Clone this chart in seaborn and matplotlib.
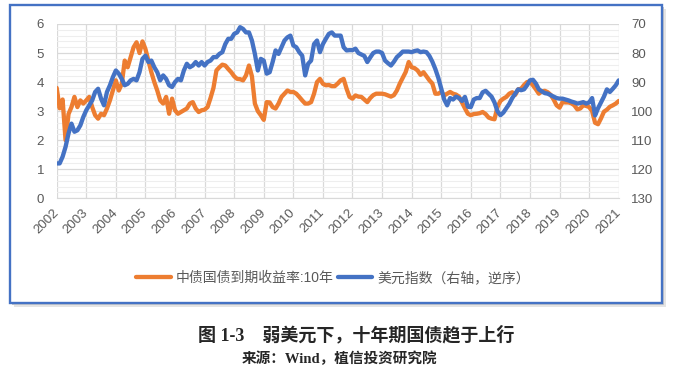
import numpy as np
import pandas as pd
import matplotlib
matplotlib.use('Agg')
import matplotlib.pyplot as plt
import seaborn as sns
from matplotlib.patches import Rectangle
from matplotlib.ticker import MultipleLocator

# sampling grid: every 0.1 year, 2002.0 .. 2021.0
year = np.round(np.arange(2002.0, 2021.05, 0.1), 1)

# 中债国债到期收益率:10年 (%)
cn10y = [
    3.80, 3.10, 3.40, 2.00, 2.90, 3.14, 3.49, 3.14, 3.37, 3.26,  # 2002
    3.37, 3.49, 3.14, 2.86, 2.74, 2.91, 2.86, 3.09, 3.37, 3.71,  # 2003
    4.06, 3.71, 3.94, 4.74, 4.51, 4.86, 5.20, 5.37, 5.00, 5.40,  # 2004
    5.14, 4.74, 4.34, 4.00, 3.71, 3.37, 3.26, 3.49, 2.91, 3.43,  # 2005
    3.03, 2.91, 2.97, 3.03, 3.09, 3.26, 3.31, 3.09, 2.97, 3.03,  # 2006
    3.05, 3.14, 3.45, 3.80, 4.40, 4.51, 4.60, 4.57, 4.45, 4.34,  # 2007
    4.20, 4.11, 4.10, 4.06, 4.23, 4.57, 4.20, 3.26, 3.00, 2.86,  # 2008
    2.70, 3.31, 3.30, 3.14, 3.09, 3.26, 3.49, 3.60, 3.71, 3.66,  # 2009
    3.66, 3.60, 3.49, 3.37, 3.26, 3.26, 3.31, 3.60, 4.00, 4.11,  # 2010
    3.94, 3.89, 3.90, 3.86, 3.86, 3.95, 4.06, 4.11, 3.77, 3.49,  # 2011
    3.43, 3.54, 3.50, 3.49, 3.40, 3.31, 3.45, 3.55, 3.60, 3.60,  # 2012
    3.60, 3.58, 3.54, 3.50, 3.55, 3.71, 3.95, 4.15, 4.35, 4.69,  # 2013
    4.51, 4.48, 4.40, 4.25, 4.34, 4.20, 4.06, 3.95, 3.60, 3.60,  # 2014
    3.66, 3.54, 3.60, 3.66, 3.60, 3.57, 3.50, 3.30, 3.10, 2.91,  # 2015
    2.86, 2.90, 2.91, 2.93, 2.97, 2.90, 2.78, 2.74, 2.72, 3.14,  # 2016
    3.35, 3.43, 3.49, 3.60, 3.65, 3.56, 3.75, 3.77, 3.90, 4.00,  # 2017
    4.02, 3.89, 3.75, 3.60, 3.68, 3.70, 3.65, 3.56, 3.40, 3.20,  # 2018
    3.12, 3.31, 3.30, 3.30, 3.27, 3.20, 3.06, 3.09, 3.20, 3.18,  # 2019
    3.14, 3.00, 2.60, 2.55, 2.75, 2.98, 3.05, 3.15, 3.20, 3.26,  # 2020
    3.35,
]

# 美元指数 (right axis, reversed)
dxy = [
    118.0, 118.0, 115.7, 112.3, 107.7, 104.3, 107.1, 106.6, 104.9, 102.0,  # 2002
    99.7, 98.0, 96.3, 93.4, 92.3, 95.7, 98.0, 93.4, 91.1, 88.3,  # 2003
    86.0, 87.1, 88.9, 91.1, 90.6, 89.4, 88.9, 89.4, 86.6, 82.0,  # 2004
    80.9, 83.1, 82.6, 84.9, 86.6, 89.4, 87.7, 88.9, 91.1, 91.7,  # 2005
    90.0, 88.9, 89.4, 86.0, 83.7, 84.9, 84.3, 83.1, 84.3, 83.1,  # 2006
    84.3, 83.1, 82.6, 81.4, 81.4, 80.3, 79.7, 76.9, 75.1, 75.1,  # 2007
    73.4, 72.9, 71.1, 71.7, 72.9, 72.9, 75.7, 80.3, 86.0, 82.0,  # 2008
    82.6, 87.1, 86.6, 83.1, 79.1, 80.3, 78.0, 75.7, 74.6, 74.0,  # 2009
    77.4, 78.0, 79.7, 80.9, 87.7, 83.7, 82.6, 76.9, 75.7, 79.7,  # 2010
    76.9, 75.1, 73.4, 72.9, 74.0, 74.0, 74.0, 78.0, 79.1, 79.0,  # 2011
    79.0, 78.5, 80.0, 80.5, 81.0, 83.1, 81.5, 80.0, 79.5, 79.5,  # 2012
    80.0, 82.6, 83.5, 84.3, 83.0, 81.4, 80.5, 79.5, 79.5, 79.5,  # 2013
    79.7, 79.3, 79.1, 79.7, 79.5, 79.7, 81.0, 83.0, 85.5, 88.5,  # 2014
    92.3, 96.0, 98.0, 95.5, 96.0, 95.0, 95.5, 96.5, 95.1, 98.5,  # 2015
    98.6, 96.0, 95.5, 95.5, 93.5, 93.0, 94.0, 95.0, 97.0, 100.0,  # 2016
    101.4, 100.5, 99.0, 97.5, 95.5, 94.0, 92.5, 92.8, 92.5, 91.1,  # 2017
    89.4, 89.2, 90.5, 92.5, 93.2, 93.8, 94.0, 94.5, 95.0, 95.5,  # 2018
    95.7, 95.7, 96.0, 96.3, 96.7, 97.0, 97.4, 97.2, 96.9, 97.4,  # 2019
    97.0, 95.5, 101.5, 99.0, 97.0, 95.0, 92.5, 93.4, 92.3, 91.1,  # 2020
    89.4,
]

year_ticks = list(range(2002, 2022))
left_ticks = [0, 1, 2, 3, 4, 5, 6]
right_ticks = [70, 80, 90, 100, 110, 120, 130]

label_cn = '中债国债到期收益率:10年'
label_usd = '美元指数（右轴，逆序）'

df = pd.DataFrame({'year': year, 'cn10y': cn10y, 'dxy': dxy})

ORANGE = '#ED7D31'
BLUE = '#4472C4'
GREY = '#595959'

sns.set_style('white')
plt.rcParams['font.family'] = ['Liberation Sans', 'Noto Sans CJK SC', 'DejaVu Sans']

fig = plt.figure(figsize=(6.74, 3.73), dpi=100)

# chart frame with a soft shadow
bx, by, bw, bh = 0.0148, 0.1877, 0.968, 0.799
fig.patches.append(Rectangle((bx + 0.006, by - 0.011), bw, bh, transform=fig.transFigure,
                             facecolor='#e4e4e4', edgecolor='none', zorder=-3))
fig.patches.append(Rectangle((bx + 0.003, by - 0.006), bw, bh, transform=fig.transFigure,
                             facecolor='#c9c9c9', edgecolor='none', zorder=-2))
fig.patches.append(Rectangle((bx, by), bw, bh, transform=fig.transFigure,
                             facecolor='white', edgecolor=BLUE, lw=1.7, zorder=-1))

ax1 = fig.add_axes([0.0841, 0.4684, 0.918 - 0.0841, 0.9357 - 0.4684])
ax2 = ax1.twinx()

sns.lineplot(data=df, x='year', y='cn10y', ax=ax1, color=ORANGE, linewidth=3.1, legend=False)
sns.lineplot(data=df, x='year', y='dxy', ax=ax2, color=BLUE, linewidth=3.1, legend=False)

ax1.set_xlim(2002, 2021)
ax1.set_ylim(0, 6)
ax2.set_ylim(130, 70)

ax1.set_xticks(year_ticks)
ax1.set_xticklabels([str(y) for y in year_ticks], rotation=45, ha='right',
                    va='center', rotation_mode='anchor')
ax1.set_yticks(left_ticks)
ax2.set_yticks(right_ticks)

ax1.yaxis.set_minor_locator(MultipleLocator(0.2))
ax1.grid(which='major', axis='both', color='#d9d9d9', lw=0.9)
ax1.grid(which='minor', axis='y', color='#eeeeee', lw=0.8)
ax2.grid(False)

ax1.tick_params(axis='y', which='both', length=0, labelsize=9.5, labelcolor=GREY, pad=9)
ax1.tick_params(axis='x', length=0, labelsize=9.5, labelcolor=GREY, pad=9)
ax2.tick_params(axis='y', length=0, labelsize=9.5, labelcolor=GREY, pad=9)

for ax in (ax1, ax2):
    ax.set_xlabel('')
    ax.set_ylabel('')
    for s in ax.spines.values():
        s.set_visible(False)
ax1.spines['bottom'].set_visible(True)
ax1.spines['bottom'].set_color('#d9d9d9')

handles = [ax1.lines[0], ax2.lines[0]]
fig.legend(handles, [label_cn, label_usd], loc='center', bbox_to_anchor=(0.494, 1 - 278 / 373),
           ncol=2, frameon=False, fontsize=10, handlelength=2.5, handletextpad=0.35,
           columnspacing=0.3, labelcolor=GREY)

fig.text(356 / 674, 1 - 335 / 373, '图 1-3\u3000弱美元下，十年期国债趋于上行', ha='center', va='center',
         fontsize=13, fontweight='bold', family=['Liberation Serif', 'Noto Sans CJK SC'])
fig.text(339 / 674, 1 - 359 / 373, '来源：Wind，植信投资研究院', ha='center', va='center',
         fontsize=10.5, fontweight='bold', family=['Liberation Serif', 'Noto Sans CJK SC'])

fig.savefig('out.png', dpi=100, facecolor='white')
